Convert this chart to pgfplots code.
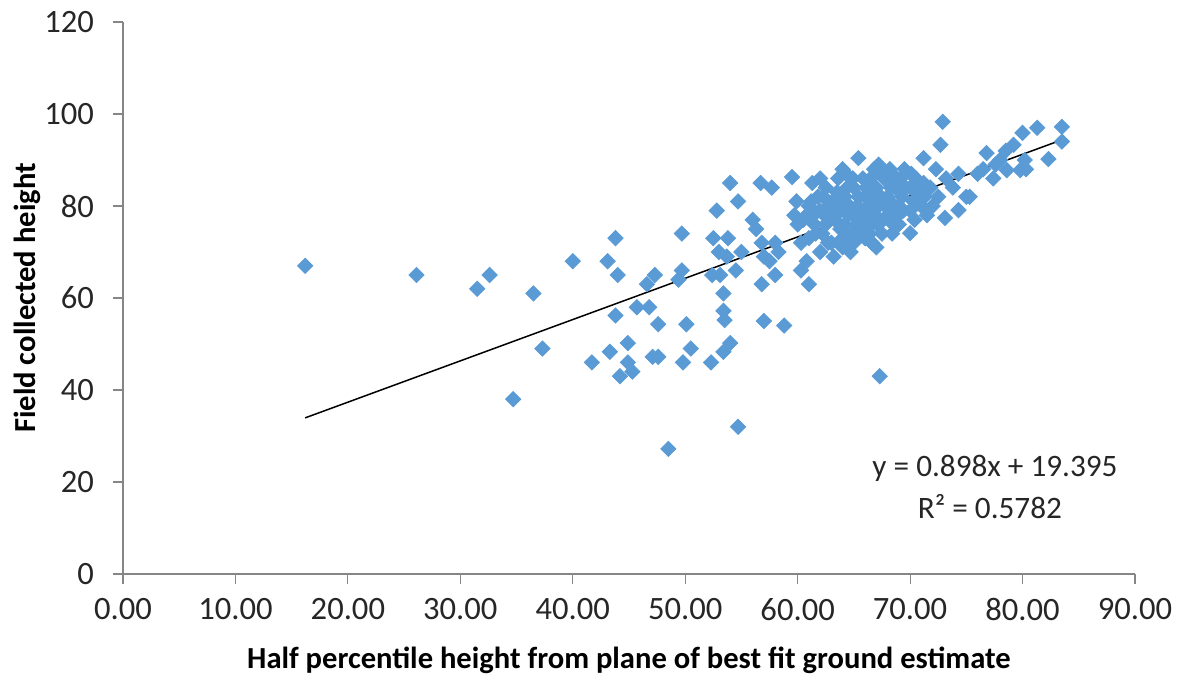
\documentclass[border=0pt]{standalone}
\usepackage{fontspec}
\setmainfont{Carlito}
\usepackage{pgfplots}
\pgfplotsset{compat=1.18}
\definecolor{ptblue}{HTML}{5B9BD5}
\definecolor{axgray}{HTML}{868686}
\definecolor{txt}{HTML}{262626}
\begin{document}
\begin{tikzpicture}
\begin{axis}[
  at={(0,0)}, anchor=south west,
  scale only axis, width=506pt, height=276pt,
  xmin=0, xmax=90, ymin=0, ymax=120,
  xtick={0,10,...,90}, ytick={0,20,...,120},
  axis x line=bottom, axis y line=left,
  axis line style={-, axgray, line width=0.6pt},
  tick style={axgray, line width=0.6pt},
  tick align=outside, major tick length=5pt,
  ticklabel style={font=\fontsize{16.3}{18}\selectfont, text=txt},
  xticklabel style={yshift=-3.5pt, /pgf/number format/.cd, fixed, fixed zerofill, precision=2, assume math mode=true},
  yticklabel style={xshift=-6pt, /pgf/number format/.cd, assume math mode=true},
  xlabel={\textbf{Half percentile height from plane of best fit ground estimate}},
  ylabel={\textbf{Field collected height}},
  label style={font=\fontsize{15.3}{18}\selectfont, text=black},
  xlabel style={yshift=-6.5pt},
  ylabel style={yshift=-5pt},
  clip=false,
]
\addplot[only marks, mark=square*, mark size=2.7pt, mark options={rotate=45, ptblue, fill=ptblue}] coordinates {
(16.2,67) (26.1,65) (31.5,62) (32.6,65) (34.7,38) (36.5,61) (37.3,49) (40,68) (41.7,46)
(43.1,68) (43.3,48.3) (43.8,73) (43.8,56.2) (44,65) (44.2,43) (44.9,50.2) (44.9,46) (45.3,44)
(45.7,58) (46.6,63) (46.8,58) (47.1,47.2) (47.3,65) (47.6,47.2) (47.6,54.3) (48.5,27.2)
(49.4,64) (49.7,74) (49.8,46) (49.7,66) (50.1,54.3) (50.5,49) (52.3,46) (52.5,73) (52.4,65)
(52.8,79) (53,70) (53.1,65) (53.4,57.2) (53.5,55.2) (53.4,61) (53.4,48.3) (53.7,69) (53.8,73)
(54,50.2) (54,85) (54.5,66) (54.7,81) (54.7,32) (55,70) (56,77) (56.3,75) (56.7,85) (56.8,72)
(56.8,63) (57,69) (57,55) (57.5,68) (57.7,84) (58,72) (58,65) (58.3,70) (58.8,54) (59.5,86.3)
(59.7,78) (59.9,81) (60,76) (60.3,72) (60.3,66) (60.8,68) (61,63) (61,80) (61.3,85) (61.4,78)
(61.6,74) (62,70) (62.3,82) (62.5,76) (62.7,72) (63,78) (63.2,69) (63.5,80) (63.6,86) (63.8,75)
(64,88) (64,73) (64.2,82) (64.5,78) (64.7,70) (65,84) (65.2,76) (65.3,80) (65.4,90.4) (65.6,74)
(65.8,86) (66,82) (66.2,78) (66.5,76) (66.6,72) (66.8,88) (67,84) (67.2,80) (67.3,43) (67.5,74)
(67.7,86) (68,82) (68,78) (68.2,88) (68.5,76) (68.7,84) (69,80) (69.2,86) (69.5,88) (70,74.1)
(70,84) (70.3,81) (70.5,86) (71.2,90.4) (71.3,82) (71.5,78) (71.8,84) (72,80) (72.3,88) (72.7,93.3)
(72.9,98.3) (73.1,77.4) (73.2,86) (73.8,84) (74.3,79.1) (74.3,87) (75,82) (75.3,82) (76,87)
(76.5,88) (76.8,91.5) (77.4,86) (77.6,89) (78,90) (78.6,87.8) (78.5,92) (79.2,93.3) (79.8,87.8)
(80,95.9) (80.2,90) (80.3,88) (81.3,97) (82.3,90.2) (83.5,97.2) (83.5,94)
(61.5,76) (62,79) (62.2,74) (62.8,80) (63.3,77) (63.5,83) (63.8,79) (64.2,76) (64.4,84) (64.6,80)
(64.8,74) (65,78) (65.4,82) (65.7,79) (65.9,77) (66.1,84) (66.3,80) (66.6,82) (66.9,78) (67.1,76)
(67.4,82) (67.8,80) (68.3,84) (68.6,80) (68.9,78) (69.3,82) (69.6,84) (70.1,87) (70.6,83) (71.2,85)
(63,72) (64,71) (66,73) (67,71) (65,72) (62.5,84) (61.8,82) (60.5,77) (61,73) (69,76) (70,79)
(67.5,87) (66.5,86) (68.8,86) (64.7,70) (66.6,72)
(60.8,78) (61.2,81) (62.4,78) (63.1,81) (63.9,82) (64.9,86) (65.5,75) (66.4,74) (67.6,77) (68.4,74)
(69.4,79) (70.4,77) (71,80) (72.5,82) (62,86) (64.3,87) (67.2,89)
};
\addplot[black, line width=0.75pt, no marks] coordinates {(16.2,33.94) (83.5,94.38)};
\node[font=\fontsize{15.6}{18}\selectfont, text=txt] at (axis cs:77.55,23.0) {y = 0.898x + 19.395};
\node[font=\fontsize{15.6}{18}\selectfont, text=txt] at (axis cs:77.1,14.6) {R² = 0.5782};
\end{axis}
\pgfresetboundingbox
\path[use as bounding box] (-61.5pt,-50.5pt) rectangle (527pt,287pt);
\end{tikzpicture}
\end{document}
